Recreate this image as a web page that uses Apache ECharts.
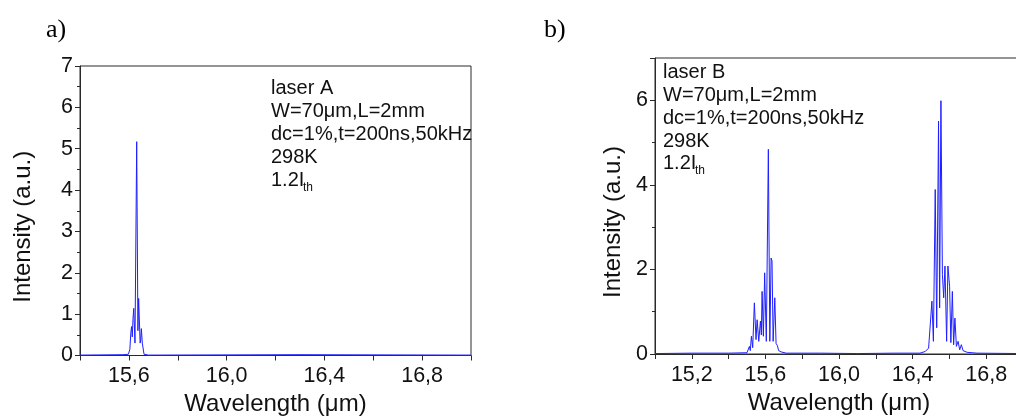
<!DOCTYPE html>
<html>
<head>
<meta charset="utf-8">
<title>laser spectra</title>
<script src="https://cdn.jsdelivr.net/npm/echarts@6/dist/echarts.min.js"></script>
<style>
  html, body { margin: 0; padding: 0; background: #fff; }
  #main { width: 1016px; height: 416px; }
</style>
</head>
<body>
<div id="main"></div>
<script>
// --- data: laser A (panel a) ---
var waveA = [15.40, 15.58, 15.598, 15.604, 15.608, 15.611, 15.614, 15.617, 15.620, 15.625, 15.632, 15.637, 15.640, 15.646, 15.648, 15.651, 15.655, 15.662, 15.68, 16.30, 17.00];
var intA  = [0.01, 0.02, 0.03, 0.15, 0.55, 0.70, 0.45, 0.90, 1.14, 0.30, 5.17, 0.60, 1.38, 0.30, 0.35, 0.65, 0.30, 0.03, 0.01, 0.02, 0.01];

// --- data: laser B (panel b) ---
var waveB = [15.00, 15.20, 15.40, 15.50, 15.504, 15.513, 15.518, 15.524, 15.531, 15.540, 15.549, 15.555, 15.564, 15.573, 15.578, 15.582, 15.589, 15.596, 15.605, 15.616, 15.624, 15.631, 15.636, 15.642, 15.651, 15.658, 15.665, 15.672, 15.685, 15.713, 15.90, 16.10, 16.30, 16.44,
             16.469, 16.487, 16.496, 16.505, 16.513, 16.523, 16.531, 16.541, 16.547, 16.554, 16.562, 16.569, 16.576, 16.585, 16.592, 16.601, 16.608, 16.616, 16.623, 16.630, 16.638, 16.647, 16.656, 16.665, 16.674, 16.683, 16.696, 16.75, 17.00];
var intB  = [0.01, 0.02, 0.02, 0.03, 0.05, 0.18, 0.08, 0.42, 0.15, 1.21, 0.34, 0.81, 0.30, 0.78, 0.45, 1.48, 0.42, 1.92, 0.30, 4.84, 0.30, 2.27, 2.20, 0.30, 1.33, 0.25, 0.20, 0.08, 0.05, 0.02, 0.02, 0.01, 0.02, 0.02,
             0.06, 0.14, 0.10, 1.25, 0.30, 3.89, 0.62, 5.51, 1.09, 5.99, 1.88, 1.33, 2.08, 0.30, 2.08, 1.60, 0.27, 1.48, 0.22, 0.85, 0.18, 0.30, 0.10, 0.22, 0.08, 0.10, 0.04, 0.02, 0.01];

var yTicksA = [0, 1, 2, 3, 4, 5, 6, 7];
var yTicksB = [0, 2, 4, 6];

function pairs(xs, ys) {
	var out = [];
	for (var i = 0; i < xs.length; i++) out.push([xs[i], ys[i]]);
	return out;
}

var lineCol = '#2a2a2a';
var txtCol = '#111';
var blue = '#1f1fff';

// labels only every 0,4 µm, comma decimals
function xLabel(v) {
	var k = Math.round(v * 10);
	if (k % 4 !== 0) return '';
	return (k / 10).toFixed(1).replace('.', ',');
}

function xAxisOf(grid, min, max) {
	return {
		type: 'value', gridIndex: grid, min: min, max: max, interval: 0.2,
		name: 'Wavelength (\u03bcm)', nameLocation: 'middle', nameGap: 37,
		nameTextStyle: { fontFamily: 'Liberation Sans', fontSize: 24, color: txtCol },
		axisLine: { show: true, onZero: false, lineStyle: { color: lineCol, width: 1 } },
		axisTick: { show: true, inside: false, length: 5, lineStyle: { color: lineCol } },
		axisLabel: { margin: 10, fontFamily: 'Liberation Sans', fontSize: 21.5, color: txtCol, formatter: xLabel },
		splitLine: { show: false }
	};
}

function yAxisOf(grid, interval, labels, gap) {
	return {
		type: 'value', gridIndex: grid, min: 0, max: 7, interval: interval,
		name: 'Intensity (a.u.)', nameLocation: 'middle', nameGap: gap,
		nameTextStyle: { fontFamily: 'Liberation Sans', fontSize: 24, color: txtCol, padding: [0, 32, 0, 0] },
		axisLine: { show: true, lineStyle: { color: lineCol, width: 1 } },
		axisTick: { show: true, inside: false, length: 5, lineStyle: { color: lineCol } },
		minorTick: { show: true, splitNumber: 2, length: 3, lineStyle: { color: lineCol } },
		axisLabel: {
			margin: 7, fontFamily: 'Liberation Sans', fontSize: 21.5, color: txtCol,
			formatter: function (v) { return labels.indexOf(v) >= 0 ? String(v) : ''; }
		},
		splitLine: { show: false }
	};
}

function note(x, y, s) {
	return { type: 'text', x: x, y: y, style: { text: s, font: '20px "Liberation Sans"', fill: txtCol, textVerticalAlign: 'middle', verticalAlign: 'middle' } };
}
function sub(x, y, s) {
	return { type: 'text', x: x, y: y, style: { text: s, font: '12px "Liberation Sans"', fill: txtCol, textVerticalAlign: 'middle', verticalAlign: 'middle' } };
}

var myChart = echarts.init(document.getElementById('main'), null, { renderer: 'canvas' });
myChart.setOption({
	animation: false,
	backgroundColor: '#fff',
	grid: [
		{ left: 80, top: 66, width: 391, height: 289.5, show: true, borderColor: lineCol, borderWidth: 1, outerBoundsMode: 'none', containLabel: false },
		{ left: 655, top: 58, width: 368, height: 296, show: true, borderColor: lineCol, borderWidth: 1, outerBoundsMode: 'none', containLabel: false }
	],
	xAxis: [xAxisOf(0, 15.4, 17.0), xAxisOf(1, 15.0, 17.0)],
	yAxis: [yAxisOf(0, 1, yTicksA, 45), yAxisOf(1, 2, yTicksB, 30)],
	series: [
		{ name: 'laser A', type: 'line', xAxisIndex: 0, yAxisIndex: 0, data: pairs(waveA, intA), showSymbol: false, lineStyle: { color: blue, width: 1 } },
		{ name: 'laser B', type: 'line', xAxisIndex: 1, yAxisIndex: 1, data: pairs(waveB, intB), showSymbol: false, lineStyle: { color: blue, width: 1 } }
	],
	graphic: [
		{ type: 'text', x: 46, y: 30, style: { text: 'a)', font: '26px "Liberation Serif"', fill: '#000', textVerticalAlign: 'middle', verticalAlign: 'middle' } },
		{ type: 'text', x: 544, y: 30, style: { text: 'b)', font: '26px "Liberation Serif"', fill: '#000', textVerticalAlign: 'middle', verticalAlign: 'middle' } },
		note(271, 88, 'laser A'),
		note(271, 111, 'W=70\u03bcm,L=2mm'),
		note(271, 134, 'dc=1%,t=200ns,50kHz'),
		note(271, 157, '298K'),
		note(271, 180, '1.2I'),
		sub(303, 188, 'th'),
		note(663, 72, 'laser B'),
		note(663, 95, 'W=70\u03bcm,L=2mm'),
		note(663, 118, 'dc=1%,t=200ns,50kHz'),
		note(663, 141, '298K'),
		note(663, 163, '1.2I'),
		sub(695, 171, 'th')
	]
});
</script>
</body>
</html>
